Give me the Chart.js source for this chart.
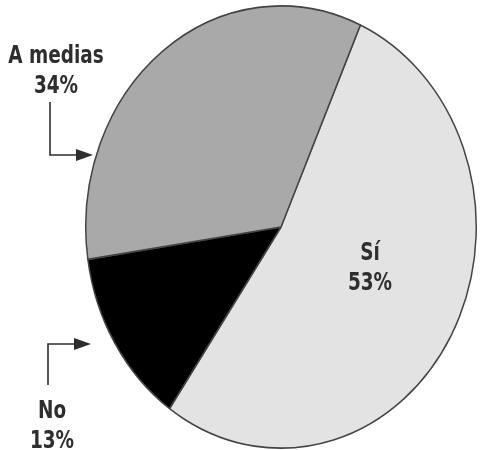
<!DOCTYPE html>
<html lang="es">
<head>
    <meta charset="UTF-8">
    <title>Encuesta</title>
    <script src="https://cdn.jsdelivr.net/npm/chart.js"></script>
    <style>
        html, body { margin: 0; padding: 0; background: #fff; }
        #wrap { width: 480px; height: 450px; }
    </style>
</head>
<body>
<div id="wrap"><canvas id="chart" width="480" height="450"></canvas></div>
<script>
    // data
    const categories = ['Sí', 'No', 'A medias'];
    const shares = [53, 13, 34];
    const sliceColors = ['#e3e3e3', '#000000', '#a9a9a9'];

    const FONT = '"DejaVu Sans Condensed", "Liberation Sans Narrow", sans-serif';
    const SQUASH = 222 / 196; // reference pie is a bit taller than wide

    // stretch the pie into an ellipse
    const ellipse = {
        id: 'ellipse',
        beforeDatasetsDraw(chart) {
            const a = chart.chartArea, ctx = chart.ctx;
            const cx = (a.left + a.right) / 2, cy = (a.top + a.bottom) / 2;
            ctx.save();
            ctx.translate(cx, cy);
            ctx.scale(1, SQUASH);
            ctx.translate(-cx, -cy);
        },
        afterDatasetsDraw(chart) {
            chart.ctx.restore();
        }
    };

    function arrow(ctx, pts) {
        ctx.beginPath();
        ctx.moveTo(pts[0][0], pts[0][1]);
        for (let i = 1; i < pts.length; i++) ctx.lineTo(pts[i][0], pts[i][1]);
        ctx.stroke();
        const [tx, ty] = pts[pts.length - 1];
        ctx.beginPath();
        ctx.moveTo(tx + 9, ty);
        ctx.lineTo(tx - 8, ty - 6);
        ctx.lineTo(tx - 8, ty + 6);
        ctx.closePath();
        ctx.fill();
    }

    // narrow bold text, like the condensed face in the reference
    function narrowText(ctx, txt, x, y) {
        ctx.save();
        ctx.translate(x, y);
        ctx.scale(0.82, 1);
        ctx.fillText(txt, 0, 0);
        ctx.restore();
    }

    const labels = {
        id: 'labels',
        afterDraw(chart) {
            const ctx = chart.ctx;
            ctx.save();
            ctx.fillStyle = '#2e2e2e';
            ctx.strokeStyle = '#2e2e2e';
            ctx.lineWidth = 1.6;
            ctx.font = 'bold 25px ' + FONT;
            ctx.textAlign = 'center';
            ctx.textBaseline = 'alphabetic';

            const pos = [[370, 260], [52, 418], [56, 63]];
            categories.forEach((c, i) => {
                narrowText(ctx, c, pos[i][0], pos[i][1]);
                narrowText(ctx, shares[i] + '%', pos[i][0], pos[i][1] + 30);
            });

            arrow(ctx, [[50, 102], [50, 155], [84, 155]]);
            arrow(ctx, [[48, 385], [48, 344], [82, 344]]);
            ctx.restore();
        }
    };

    new Chart(document.getElementById('chart'), {
        type: 'pie',
        data: {
            labels: categories,
            datasets: [{
                data: shares,
                backgroundColor: sliceColors,
                borderColor: '#444444',
                borderWidth: 1.5,
                hoverOffset: 0
            }]
        },
        options: {
            responsive: false,
            animation: false,
            rotation: 24,
            layout: { padding: { left: 85, right: 3, top: 31, bottom: 27 } },
            plugins: {
                legend: { display: false },
                tooltip: { enabled: false }
            }
        },
        plugins: [ellipse, labels]
    });
</script>
</body>
</html>
